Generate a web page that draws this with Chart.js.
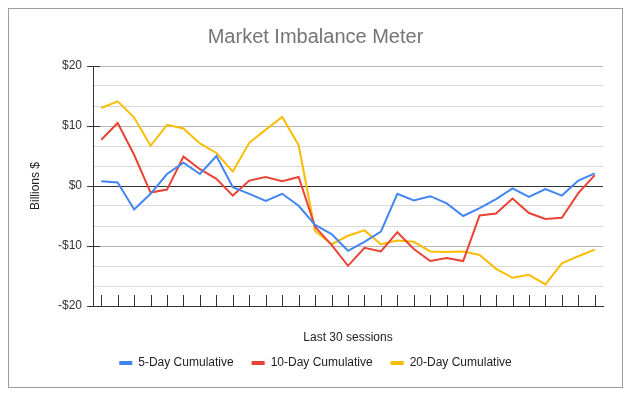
<!DOCTYPE html>
<html>
<head>
<meta charset="utf-8">
<script src="https://cdn.jsdelivr.net/npm/chart.js@4.4.1/dist/chart.umd.min.js"></script>
<style>
  html, body { margin: 0; padding: 0; background: #fff; }
  #wrap { width: 631px; height: 396px; }
</style>
</head>
<body>
<div id="wrap"><canvas id="imbalance"></canvas></div>
<script>
const sessions = ['1', '2', '3', '4', '5', '6', '7', '8', '9', '10', '11', '12', '13', '14', '15', '16',
    '17', '18', '19', '20', '21', '22', '23', '24', '25', '26', '27', '28', '29', '30', '31'];
const fiveDay = [0.8, 0.6, -3.9, -1.3, 2.0, 3.9, 2.0, 5.0, -0.2, -1.3, -2.5, -1.3, -3.3, -6.5, -8.0, -10.8,
    -9.3, -7.6, -1.3, -2.4, -1.7, -2.9, -5.0, -3.7, -2.2, -0.4, -1.8, -0.5, -1.6, 0.9, 2.1];
const tenDay = [7.7, 10.5, 5.2, -1.1, -0.6, 4.9, 2.8, 1.2, -1.6, 0.9, 1.5, 0.8, 1.5, -6.8, -9.8, -13.3,
    -10.3, -10.9, -7.7, -10.5, -12.5, -12.0, -12.5, -4.9, -4.6, -2.1, -4.5, -5.5, -5.3, -1.2, 1.8];
const twentyDay = [13.0, 14.1, 11.4, 6.7, 10.2, 9.6, 7.1, 5.5, 2.4, 7.2, 9.4, 11.5, 6.8, -7.5, -9.7, -8.3,
    -7.4, -9.7, -9.1, -9.3, -10.9, -11.0, -10.9, -11.5, -13.8, -15.3, -14.8, -16.4, -12.9, -11.7, -10.6];
const yMajorTicks = [-20, -10, 0, 10, 20];

// two light lines between every labelled tick
const yGridValues = [];
yMajorTicks.forEach((v, i) => {
    yGridValues.push(v);
    if (i < yMajorTicks.length - 1) {
        const step = (yMajorTicks[i + 1] - v) / 3;
        yGridValues.push(v + step, v + 2 * step);
    }
});
const isMajor = v => yMajorTicks.some(m => Math.abs(m - v) < 1e-6);

Chart.defaults.font.family = '"Liberation Sans", Arial, sans-serif';

const frame = {
    id: 'frame',
    beforeDraw(chart) {
        const c = chart.ctx;
        c.save();
        c.fillStyle = '#fff';
        c.fillRect(0, 0, chart.width, chart.height);
        c.strokeStyle = '#9e9e9e';
        c.lineWidth = 1;
        c.strokeRect(8.5, 8.5, 614, 379);
        c.restore();
    },
    afterDraw(chart) {
        const c = chart.ctx;
        const xs = chart.scales.x, ys = chart.scales.y;
        const area = chart.chartArea;
        c.save();
        c.strokeStyle = '#333';
        c.lineWidth = 1;
        c.beginPath();
        sessions.forEach((s, i) => {
            const x = Math.round(xs.getPixelForValue(i)) + 0.5;
            c.moveTo(x, area.bottom - 11);
            c.lineTo(x, area.bottom);
        });
        yMajorTicks.forEach(v => {
            const y = Math.round(ys.getPixelForValue(v)) + 0.5;
            c.moveTo(area.left - 6, y);
            c.lineTo(area.left + 7, y);
        });
        c.stroke();
        c.restore();
    }
};

const ctx = document.getElementById('imbalance').getContext('2d');
const imbalance = new Chart(ctx, {
    type: 'line',
    data: {
        labels: sessions,
        datasets: [{
            label: '5-Day Cumulative',
            data: fiveDay,
            borderColor: '#4285f4',
            backgroundColor: '#4285f4'
        }, {
            label: '10-Day Cumulative',
            data: tenDay,
            borderColor: '#ea4335',
            backgroundColor: '#ea4335'
        }, {
            label: '20-Day Cumulative',
            data: twentyDay,
            borderColor: '#fbbc04',
            backgroundColor: '#fbbc04'
        }]
    },
    options: {
        responsive: true,
        maintainAspectRatio: false,
        animation: false,
        layout: { padding: { left: 0, right: 0, top: 0, bottom: 17 } },
        elements: {
            line: { borderWidth: 2, tension: 0 },
            point: { radius: 0, hoverRadius: 0 }
        },
        plugins: {
            title: {
                display: true,
                text: 'Market Imbalance Meter',
                color: '#757575',
                font: { size: 20, weight: 'normal' },
                padding: { top: 25, bottom: 17 }
            },
            legend: {
                position: 'bottom',
                labels: {
                    color: '#222',
                    font: { size: 12 },
                    boxWidth: 13,
                    boxHeight: 4,
                    padding: 18,
                    generateLabels(chart) {
                        return Chart.defaults.plugins.legend.labels.generateLabels(chart)
                            .map(item => Object.assign(item, { lineWidth: 0 }));
                    }
                }
            },
            tooltip: { enabled: false }
        },
        scales: {
            x: {
                offset: true,
                grid: { display: false },
                border: { display: true, color: '#333' },
                ticks: { display: false },
                title: {
                    display: true,
                    text: 'Last 30 sessions',
                    color: '#222',
                    font: { size: 12 },
                    padding: { top: 0, bottom: -6 }
                },
                afterFit(scale) { scale.height = 33; }
            },
            y: {
                min: -20,
                max: 20,
                afterBuildTicks(scale) {
                    scale.ticks = yGridValues.map(v => ({ value: v }));
                },
                grid: {
                    drawTicks: false,
                    color: c => Math.abs(c.tick.value) < 1e-6 ? '#333' : (isMajor(c.tick.value) ? '#b7b7b7' : '#d9d9d9')
                },
                border: { display: true, color: '#333' },
                ticks: {
                    color: '#333',
                    font: { size: 12 },
                    padding: 11,
                    callback: v => {
                        if (!isMajor(v)) return '';
                        const r = Math.round(v);
                        return (r < 0 ? '-$' : '$') + Math.abs(r);
                    }
                },
                title: {
                    display: true,
                    text: 'Billions $',
                    color: '#222',
                    font: { size: 12 },
                    padding: { top: 28, bottom: 0 }
                },
                afterFit(scale) { scale.width = 93; }
            },
            // empty spacer on the right so title and legend centre on the frame
            spacer: {
                type: 'linear',
                position: 'right',
                display: true,
                grid: { display: false },
                border: { display: false },
                ticks: { display: false },
                afterFit(scale) { scale.width = 28; }
            }
        }
    },
    plugins: [frame]
});
</script>
</body>
</html>
